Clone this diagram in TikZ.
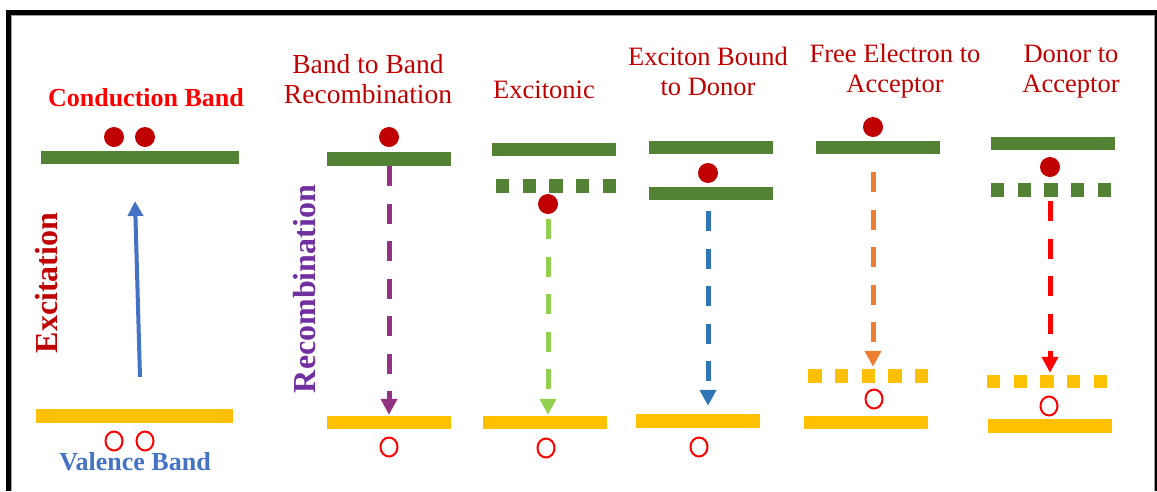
\documentclass[tikz,border=0pt]{standalone}
\usepackage{fontspec}
\setmainfont{Liberation Serif}
\usetikzlibrary{arrows.meta,shapes.geometric}
\definecolor{bandgreen}{RGB}{84,130,53}
\definecolor{bandyellow}{RGB}{255,192,0}
\definecolor{dotred}{RGB}{192,0,0}
\definecolor{holered}{RGB}{255,0,0}
\definecolor{titlered}{RGB}{192,0,0}
\definecolor{vbblue}{RGB}{68,114,196}
\definecolor{recpurple}{RGB}{112,48,160}
\definecolor{arrpurple}{RGB}{145,50,130}
\definecolor{arrgreen}{RGB}{146,208,80}
\definecolor{arrblue}{RGB}{46,117,182}
\definecolor{arrorange}{RGB}{237,125,49}
\definecolor{framegray}{RGB}{160,160,160}
\tikzset{
  bar/.style={rectangle, inner sep=0pt, minimum height=13.5pt, minimum width=124pt},
  cband/.style={bar, fill=bandgreen},
  vband/.style={bar, fill=bandyellow},
  level/.style={rectangle, inner sep=0pt, minimum width=120pt, minimum height=14pt},
  levelsq/.style={line width=14pt, dash pattern=on 13.3pt off 13.4pt},
  elec/.style={circle, fill=dotred, inner sep=0pt, minimum size=20pt},
  hole/.style={ellipse, draw=holered, line width=2pt, inner sep=0pt, minimum width=17pt, minimum height=19pt},
  trans/.style={line width=5pt, dash pattern=on 20pt off 17.5pt, -{Triangle[length=16pt,width=16pt]}},
  title/.style={text=titlered, font=\fontsize{26.5}{30}\selectfont, anchor=base, inner sep=0pt},
  bandlabel/.style={font=\bfseries\fontsize{26}{30}\selectfont, anchor=base, inner sep=0pt},
  sidelabel/.style={font=\bfseries\fontsize{32}{36}\selectfont, anchor=base, inner sep=0pt, rotate=90}
}
\begin{document}
\begin{tikzpicture}[x=1pt,y=-1pt]
\useasboundingbox (0,0) rectangle (1157,491);
% frame
\fill[framegray] (11,15) rectangle (1155,16.2);
\fill[framegray] (11,15) rectangle (12.2,491);
\fill[framegray] (1153.8,15) rectangle (1155,491);
\fill[black] (6,10) rectangle (1157,15);
\fill[black] (6,10) rectangle (11,491);
\fill[black] (1155,10) rectangle (1157,491);

% ---------- panel 1: excitation ----------
\node[bandlabel, text=holered] (cbl) at (146,106) {Conduction Band};
\node[cband, minimum width=198pt, minimum height=13pt] (cb1) at (140,157.5) {};
\node[elec] (e1a) at (114,137) {};
\node[elec] (e1b) at (145,137) {};
\node[vband, minimum width=197pt, minimum height=14pt] (vb1) at (134.5,416) {};
\node[hole] (h1a) at (114,441) {};
\node[hole] (h1b) at (145,441) {};
\node[bandlabel, text=vbblue] (vbl) at (135,470) {Valence Band};
\coordinate (x0) at (140,377);
\coordinate (x1) at (135,201);
\draw[vbblue, line width=4pt, -{Triangle[length=15pt,width=15pt]}] (x0) -- (x1);
\node[sidelabel, text=dotred] (exl) at (57,283) {Excitation};
\node[sidelabel, text=recpurple] (rcl) at (315,289) {Recombination};

% ---------- panel 2: band to band ----------
\node[title, font=\fontsize{27.5}{30}\selectfont] (t2a) at (368,73) {Band to Band};
\node[title, font=\fontsize{27.5}{30}\selectfont] (t2b) at (368,103) {Recombination};
\node[cband, minimum height=14pt] (cb2) at (389,159) {};
\node[elec] (e2) at (389,137) {};
\node[vband, minimum height=13pt] (vb2) at (389,422.5) {};
\node[hole] (h2) at (389,447) {};
\draw[trans, arrpurple, shorten >=1pt] (cb2.south) -- (vb2.north);

% ---------- panel 3: excitonic ----------
\node[title] (t3) at (544,98) {Excitonic};
\node[cband, minimum height=13pt] (cb3) at (554,149.5) {};
\node[level] (d3) at (556,186) {};
\draw[levelsq, bandgreen] (d3.west) -- (d3.east);
\node[elec] (e3) at (548,204) {};
\node[vband, minimum height=13pt] (vb3) at (545,422.5) {};
\node[hole] (h3) at (546,448) {};
\draw[trans, arrgreen, shorten <=5pt, shorten >=1pt] (e3.south) -- (e3.south |- vb3.north);

% ---------- panel 4: exciton bound to donor ----------
\node[title] (t4a) at (708,65) {Exciton Bound};
\node[title] (t4b) at (708,95) {to Donor};
\node[cband, minimum height=13pt] (cb4a) at (711,147.5) {};
\node[elec] (e4) at (708,173) {};
\node[cband, minimum height=13pt] (cb4b) at (711,193.5) {};
\node[vband, minimum height=14pt] (vb4) at (698,421) {};
\node[hole] (h4) at (699,447) {};
\draw[trans, arrblue, shorten <=11pt, shorten >=8pt] (e4 |- cb4b.south) -- (e4 |- vb4.north);

% ---------- panel 5: free electron to acceptor ----------
\node[title] (t5a) at (895,62) {Free Electron to};
\node[title] (t5b) at (895,92) {Acceptor};
\node[elec] (e5) at (873,127) {};
\node[cband, minimum height=13pt] (cb5) at (878,147.5) {};
\node[level] (a5) at (868.5,376) {};
\draw[levelsq, bandyellow] (a5.west) -- (a5.east);
\node[hole] (h5) at (874,399) {};
\node[vband, minimum height=13pt] (vb5) at (866,422.5) {};
\draw[trans, arrorange, shorten <=18pt, shorten >=2pt] (e5 |- cb5.south) -- (e5 |- a5.north);

% ---------- panel 6: donor to acceptor ----------
\node[title] (t6a) at (1071,62) {Donor to};
\node[title] (t6b) at (1071,92) {Acceptor};
\node[cband, minimum height=13pt] (cb6) at (1053,143.5) {};
\node[elec] (e6) at (1050,167) {};
\node[level] (d6) at (1051,190) {};
\draw[levelsq, bandgreen] (d6.west) -- (d6.east);
\node[level, minimum height=13pt] (a6) at (1047,381.5) {};
\draw[levelsq, line width=13pt, bandyellow] (a6.west) -- (a6.east);
\node[hole] (h6) at (1049,406) {};
\node[vband, minimum height=14pt] (vb6) at (1050,426) {};
\draw[trans, holered, shorten <=4pt, shorten >=2pt] (e6 |- d6.south) -- (e6 |- a6.north);
\end{tikzpicture}
\end{document}
